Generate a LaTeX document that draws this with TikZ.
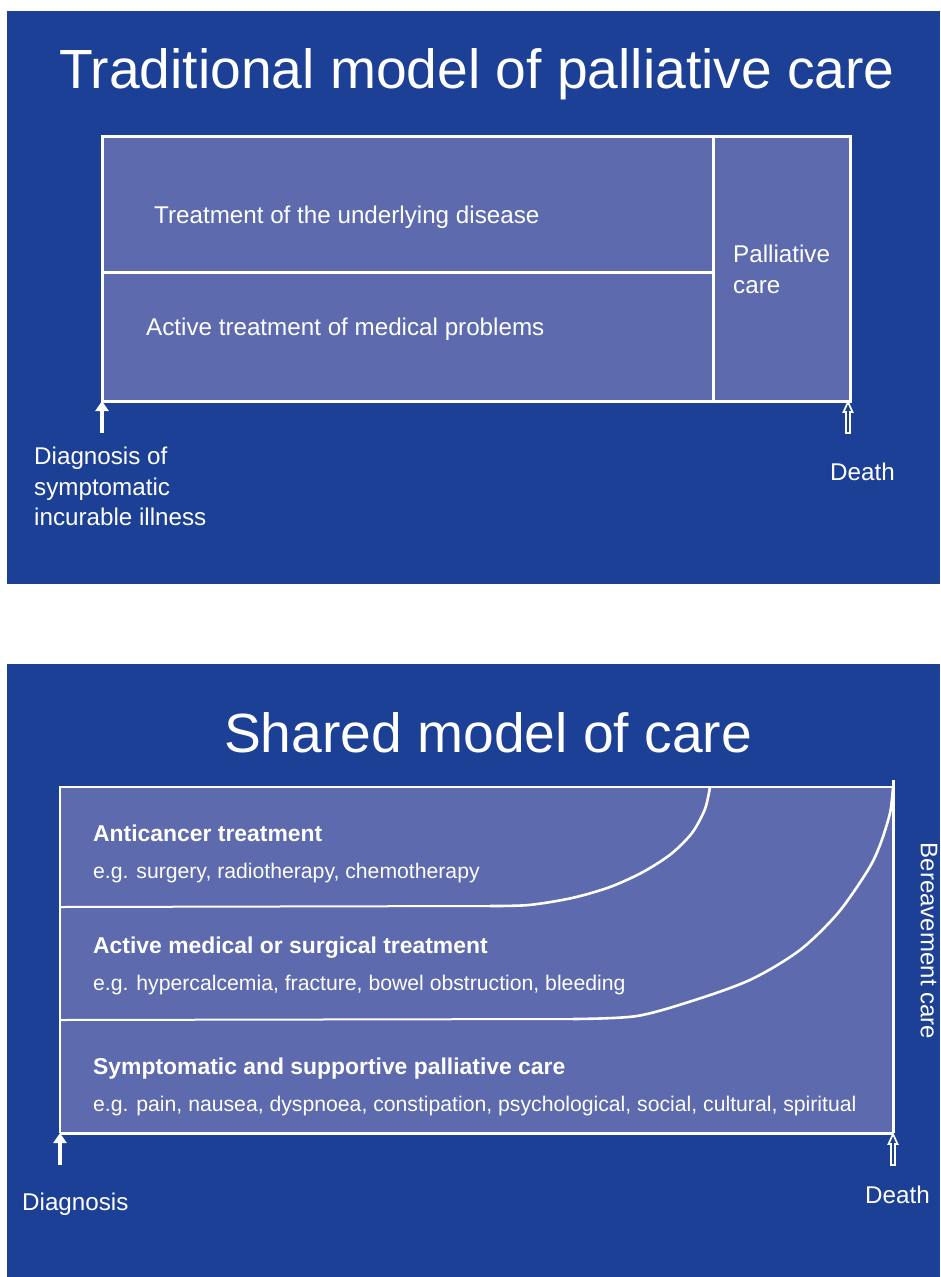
\documentclass[tikz,border=0pt]{standalone}
\usepackage{fontspec}
\setmainfont{Liberation Sans}
\usetikzlibrary{arrows.meta}
\definecolor{darkblue}{RGB}{28,64,150}
\definecolor{lightblue}{RGB}{94,106,174}
\tikzset{
  panel/.style={fill=darkblue, draw=none},
  boxfill/.style={fill=lightblue, draw=none},
  wline/.style={draw=white, line width=3pt},
  thinw/.style={draw=white, line width=2pt},
  curvew/.style={draw=white, line width=2.6pt, line join=round},
  title/.style={text=white, font=\fontsize{55.2}{60}\selectfont, inner sep=0pt},
  body/.style={text=white, font=\fontsize{24.2}{28}\selectfont, inner sep=0pt, anchor=base west},
  bodyb/.style={text=white, font=\fontsize{22.9}{27}\selectfont\bfseries, inner sep=0pt, anchor=base west},
  bodys/.style={text=white, font=\fontsize{21.2}{25}\selectfont, inner sep=0pt, anchor=base west},
  solidarrow/.style={draw=white, line width=4pt, -{Triangle[width=13pt,length=10pt]}},
  hollowarrow/.style={draw=white, line width=1.7pt, fill=darkblue, line join=miter},
}
\begin{document}
\begin{tikzpicture}[x=1pt,y=-1pt]
\useasboundingbox (0,0) rectangle (940,1277);
% panels
\fill[panel] (7,11) rectangle (940,584);
\fill[panel] (7,664) rectangle (940,1277);

% ---------- Panel 1 ----------
\node[title] (t1) at (477,74) {Traditional model of palliative care};
\fill[boxfill] (102,136) rectangle (850,401);
\draw[wline] (102,136) rectangle (850,401);
\draw[wline] (713,136) -- (713,401);
\draw[wline] (102,272) -- (713,272);
\node[body] (n1) at (154,223) {Treatment of the underlying disease};
\node[body] (n2) at (146,335) {Active treatment of medical problems};
\node[body] (n3a) at (733,262) {Palliative};
\node[body] (n3b) at (733,293) {care};
\coordinate (d1) at (102,433);
\coordinate (b1) at (102,401);
\draw[solidarrow] (d1) -- (b1);
\coordinate (c1) at (848,402);
\draw[hollowarrow] (846,433) -- (846,412) -- (843.5,412) -- (c1) -- (852.5,412) -- (850,412) -- (850,433) -- cycle;
\node[body] (n4a) at (34,464) {Diagnosis of};
\node[body] (n4b) at (34,495) {symptomatic};
\node[body] (n4c) at (34,525) {incurable illness};
\node[body] (n5) at (830,480) {Death};

% ---------- Panel 2 ----------
\node[title] (t2) at (488,733) {Shared model of care};
\fill[boxfill] (60,787) rectangle (893,1133);
\draw[thinw] (60,1133) -- (60,787) -- (893,787);
\draw[wline] (60,1133) -- (893,1133);
\draw[wline] (893,780) -- (893,1133);
\draw[thinw] (60,907) -- (490,906);
\draw[curvew] plot[smooth] coordinates {(490,906) (529,905) (572,898) (610,887) (643,872) (671,854) (692,833) (705,809) (710,787)};
\draw[thinw] (60,1020) -- (573,1019);
\draw[curvew] plot[smooth] coordinates {(573,1019) (637,1016) (698,999) (752,979) (800,950) (838,913) (868,870) (880,845) (890,813) (893,787)};
\node[bodyb] (m1) at (93,841) {Anticancer treatment};
\node[bodys] (m2) at (93,878) {e.g. surgery, radiotherapy, chemotherapy};
\node[bodyb] (m3) at (93,953) {Active medical or surgical treatment};
\node[bodys] (m4) at (93,990) {e.g. hypercalcemia, fracture, bowel obstruction, bleeding};
\node[bodyb] (m5) at (93,1074) {Symptomatic and supportive palliative care};
\node[bodys] (m6) at (93,1111) {e.g. pain, nausea, dyspnoea, constipation, psychological, social, cultural, spiritual};
\node[text=white, font=\fontsize{24}{28}\selectfont, inner sep=0pt, rotate=-90] (m7) at (929,941) {Bereavement care};
\coordinate (d2) at (60,1165);
\coordinate (b2) at (60,1133);
\draw[solidarrow] (d2) -- (b2);
\coordinate (c2) at (893,1134);
\draw[hollowarrow] (891,1165) -- (891,1144) -- (888.5,1144) -- (c2) -- (897.5,1144) -- (895,1144) -- (895,1165) -- cycle;
\node[body] (m8) at (22,1210) {Diagnosis};
\node[body] (m9) at (865,1203) {Death};
\end{tikzpicture}
\end{document}
